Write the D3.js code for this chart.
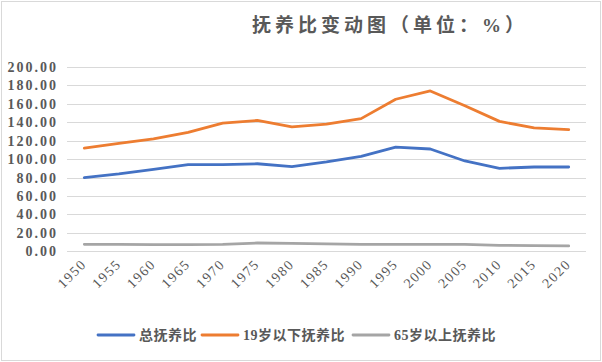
<!DOCTYPE html>
<html>
<head>
<meta charset="utf-8">
<script src="https://cdn.jsdelivr.net/npm/d3@7"></script>
<style>
  body { margin: 0; background: #fff; }
  svg text { fill: #595959; }
</style>
</head>
<body>
<svg id="chart" width="602" height="362"></svg>
<script>
var years = ["1950","1955","1960","1965","1970","1975","1980","1985","1990","1995","2000","2005","2010","2015","2020"];
var total_ratio = [80, 84, 89, 94, 94, 95, 92, 97, 103, 113, 111, 98, 90, 91.5, 91.5];
var young_ratio = [112, 117, 122, 129, 139, 142, 135, 138, 144, 165, 174, 158, 141, 134, 132];
var old_ratio = [7.6, 7.6, 7.2, 7.2, 7.6, 9.0, 8.7, 8.0, 7.6, 7.6, 7.6, 7.6, 6.5, 6.2, 5.8];
var y_ticks = [0, 20, 40, 60, 80, 100, 120, 140, 160, 180, 200];
var series_names = ["总抚养比", "19岁以下抚养比", "65岁以上抚养比"];
var series_colors = ["#4472C4", "#ED7D31", "#A5A5A5"];

var latin = "Liberation Serif, DejaVu Serif, serif";
var cjk = "Liberation Serif, Noto Sans CJK SC, serif";

var svg = d3.select("#chart");

// outer frame
svg.append("rect")
    .attr("x", 1.5).attr("y", 1.5)
    .attr("width", 599).attr("height", 359)
    .attr("fill", "#fff")
    .attr("stroke", "#D9D9D9");

svg.append("text")
    .attr("x", 390).attr("y", 32)
    .attr("text-anchor", "middle")
    .attr("font-family", cjk)
    .attr("font-size", 19)
    .attr("font-weight", "bold")
    .style("letter-spacing", "4px")
    .text("抚养比变动图（单位：%）");

var x = d3.scaleBand().domain(years).range([67, 586]);
var y = d3.scaleLinear().domain([0, 200]).range([251.3, 67]);

// gridlines
svg.append("g")
    .selectAll("line")
    .data(y_ticks)
    .enter().append("line")
      .attr("x1", 67).attr("x2", 586)
      .attr("y1", function(d) { return Math.round(y(d)) + 0.5; })
      .attr("y2", function(d) { return Math.round(y(d)) + 0.5; })
      .attr("stroke", "#D9D9D9")
      .attr("stroke-width", 1);

// y axis labels
var yAxis = d3.axisLeft(y).tickValues(y_ticks).tickSize(0).tickPadding(0)
    .tickFormat(function(d) { return d3.format(".2f")(d); });
var gy = svg.append("g").attr("transform", "translate(58,0)").call(yAxis);
gy.attr("font-family", latin).attr("font-size", 14);
gy.select(".domain").remove();
gy.selectAll("text")
    .attr("font-weight", "bold")
    .style("letter-spacing", "2px")
    .attr("fill", "#595959");

// x axis labels, rotated
var xAxis = d3.axisBottom(x).tickSize(0).tickPadding(0);
var gx = svg.append("g").attr("transform", "translate(0,251)").call(xAxis);
gx.attr("font-family", latin).attr("font-size", 14);
gx.select(".domain").remove();
gx.selectAll("text")
    .style("letter-spacing", "1.5px")
    .attr("fill", "#595959")
    .attr("text-anchor", "end")
    .attr("dy", null)
    .attr("y", 0)
    .attr("transform", "translate(3,14) rotate(-45)");

var line = d3.line()
    .x(function(d, i) { return x(years[i]) + x.bandwidth() / 2; })
    .y(function(d) { return y(d); });

var all_series = [total_ratio, young_ratio, old_ratio];
// grey first so it sits below
[2, 0, 1].forEach(function(k) {
  svg.append("path")
      .datum(all_series[k])
      .attr("fill", "none")
      .attr("stroke", series_colors[k])
      .attr("stroke-width", 2.8)
      .attr("stroke-linejoin", "round")
      .attr("stroke-linecap", "round")
      .attr("d", line);
});

// legend
var legend_x = [98, 202, 353];
var lg = svg.append("g")
    .selectAll("g")
    .data(series_names)
    .enter().append("g")
      .attr("transform", function(d, i) { return "translate(" + legend_x[i] + ",335)"; });

lg.append("line")
    .attr("x1", 0).attr("x2", 36)
    .attr("y1", 0).attr("y2", 0)
    .attr("stroke", function(d, i) { return series_colors[i]; })
    .attr("stroke-width", 2.8)
    .attr("stroke-linecap", "round");

lg.append("text")
    .attr("x", 41).attr("y", 5)
    .attr("font-family", cjk)
    .attr("font-size", 14)
    .attr("font-weight", "bold")
    .style("letter-spacing", "0.5px")
    .text(function(d) { return d; });
</script>
</body>
</html>
